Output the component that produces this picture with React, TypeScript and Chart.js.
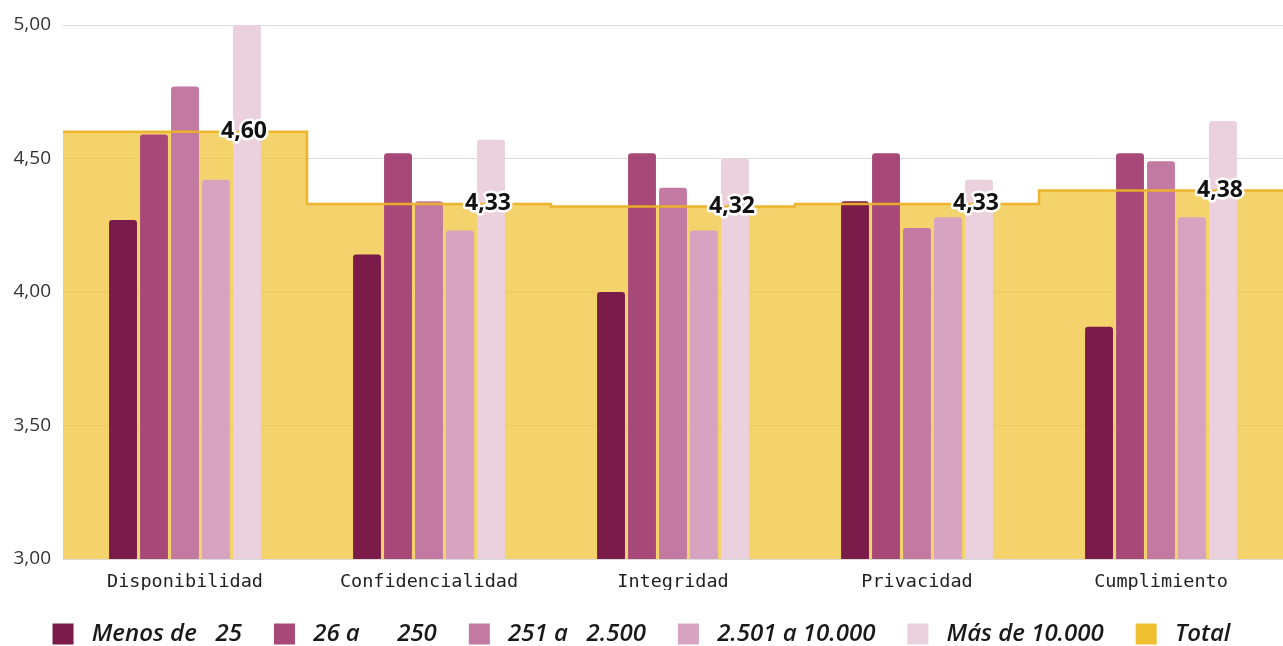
import React, { useEffect, useRef } from 'react';
import { Chart, registerables } from 'chart.js';

Chart.register(...registerables);

const categories = ['Disponibilidad', 'Confidencialidad', 'Integridad', 'Privacidad', 'Cumplimiento'];
const seriesNames = ['Menos de   25', '26 a      250', '251 a   2.500', '2.501 a 10.000', 'Más de 10.000'];
const totalName = 'Total';

const menos25 = [4.27, 4.14, 4.0, 4.34, 3.87];
const de26a250 = [4.59, 4.52, 4.52, 4.52, 4.52];
const de251a2500 = [4.77, 4.34, 4.39, 4.24, 4.49];
const de2501a10000 = [4.42, 4.23, 4.23, 4.28, 4.28];
const mas10000 = [5.0, 4.57, 4.5, 4.42, 4.64];
const totalValues = [4.6, 4.33, 4.32, 4.33, 4.38];

const yTicks = [3.0, 3.5, 4.0, 4.5, 5.0];

const seriesValues = [menos25, de26a250, de251a2500, de2501a10000, mas10000];
const barColors = ['#7A1B4A', '#A84878', '#C27AA3', '#D6A4C1', '#EBD0DD'];
const totalLegendColor = '#F0C032';
const totalFill = 'rgba(240,196,62,0.76)';
const totalLine = 'rgba(236,178,40,0.95)';

const fmt = (v: number) => v.toFixed(2).replace('.', ',');

const totalLabelsPlugin = {
  id: 'totalLabels',
  afterDatasetsDraw(chart: any) {
    const { ctx } = chart;
    const xs = chart.scales.x;
    const ys = chart.scales.y;
    ctx.save();
    ctx.font = 'bold 23px "Open Sans"';
    ctx.textAlign = 'center';
    ctx.textBaseline = 'middle';
    ctx.lineJoin = 'round';
    totalValues.forEach((v, i) => {
      const px = xs.getPixelForValue(i + 0.5) + 59;
      const py = ys.getPixelForValue(v);
      const t = fmt(v);
      ctx.lineWidth = 5;
      ctx.strokeStyle = '#ffffff';
      ctx.strokeText(t, px, py);
      ctx.fillStyle = '#111111';
      ctx.fillText(t, px, py);
    });
    ctx.restore();
  },
};

export default function App() {
  const canvasRef = useRef<HTMLCanvasElement | null>(null);

  useEffect(() => {
    if (!canvasRef.current) return;
    const stepPoints = totalValues.map((v, i) => ({ x: i, y: v }));
    stepPoints.push({ x: totalValues.length, y: totalValues[totalValues.length - 1] });

    const barDatasets = seriesNames.map((name, i) => ({
      type: 'bar' as const,
      label: name,
      data: seriesValues[i].map((v, j) => ({ x: j + 0.5, y: v })),
      backgroundColor: barColors[i],
      borderRadius: { topLeft: 3, topRight: 3, bottomLeft: 0, bottomRight: 0 },
      borderSkipped: 'start' as const,
      categoryPercentage: 0.635,
      barPercentage: 0.9,
      order: 2,
    }));

    const chart = new Chart(canvasRef.current, {
      data: {
        datasets: [
          ...barDatasets,
          {
            type: 'line',
            label: totalName,
            data: stepPoints,
            stepped: 'before',
            fill: 'start',
            backgroundColor: totalFill,
            borderWidth: 0,
            borderColor: 'rgba(0,0,0,0)',
            pointRadius: 0,
            order: 5,
          },
          {
            type: 'line',
            label: '__totalLine',
            data: stepPoints,
            stepped: 'before',
            fill: false,
            borderColor: totalLine,
            borderWidth: 2.5,
            pointRadius: 0,
            order: 0,
          },
        ] as any,
      },
      options: {
        animation: false,
        responsive: true,
        maintainAspectRatio: false,
        layout: { padding: { top: 25, left: 0, right: 0, bottom: -10 } },
        plugins: {
          tooltip: { enabled: false },
          legend: {
            position: 'bottom',
            labels: {
              boxWidth: 21,
              boxHeight: 21,
              padding: 32,
              color: '#1a1a1a',
              font: { family: '"Open Sans"', size: 24, style: 'italic', weight: '600' as any },
              generateLabels: () => {
                const items: any[] = seriesNames.map((n, i) => ({
                  text: ' ' + n,
                  fillStyle: barColors[i],
                  strokeStyle: barColors[i],
                  lineWidth: 0,
                  hidden: false,
                  datasetIndex: i,
                  fontColor: '#1a1a1a',
                }));
                items.push({
                  text: ' ' + totalName,
                  fillStyle: totalLegendColor,
                  strokeStyle: totalLegendColor,
                  lineWidth: 0,
                  hidden: false,
                  datasetIndex: seriesNames.length,
                  fontColor: '#1a1a1a',
                });
                return items;
              },
            },
          },
        },
        scales: {
          x: {
            type: 'linear',
            min: 0,
            max: categories.length,
            offset: false,
            grid: { display: false },
            border: { display: false },
            afterBuildTicks: (s: any) => {
              s.ticks = categories.map((_, i) => ({ value: i + 0.5 }));
            },
            ticks: {
              color: '#222222',
              padding: 4,
              autoSkip: false,
              maxRotation: 0,
              font: { family: '"DejaVu Sans Mono"', size: 18.5 },
              callback: (_v: any, i: number) => categories[i],
            },
            afterFit: (s: any) => {
              s.height = 31;
            },
          },
          y: {
            min: yTicks[0],
            max: yTicks[yTicks.length - 1],
            border: { display: false },
            grid: { color: '#d9d9d9', drawTicks: false, lineWidth: 1 },
            afterBuildTicks: (s: any) => {
              s.ticks = yTicks.map((v) => ({ value: v }));
            },
            ticks: {
              color: '#333333',
              padding: 12,
              font: { family: '"Open Sans"', size: 19 },
              callback: (v: any) => fmt(Number(v)),
            },
            afterFit: (s: any) => {
              s.width = 63;
            },
          },
        },
      },
      plugins: [totalLabelsPlugin],
    } as any);

    return () => chart.destroy();
  }, []);

  return (
    <div style={{ position: 'fixed', left: 0, top: 0, width: '1283px', height: '646px', background: '#fff' }}>
      <canvas ref={canvasRef} />
    </div>
  );
}
